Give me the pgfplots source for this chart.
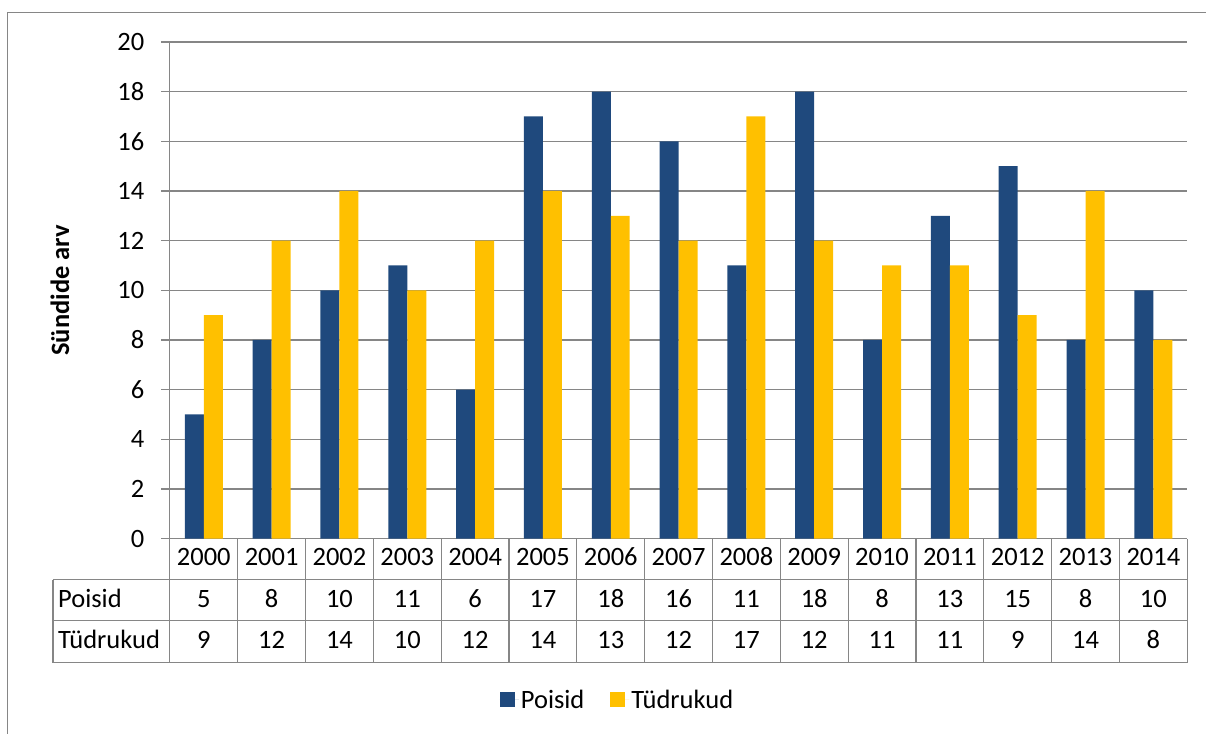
\documentclass[border=0pt]{standalone}
\usepackage{pgfplots}
\pgfplotsset{compat=1.18}
\usepackage{pgfplotstable}
\usepackage{fontspec}
\setmainfont{Carlito}
\definecolor{cblue}{HTML}{1F497D}
\definecolor{cyel}{HTML}{FFC000}
\definecolor{cgrid}{HTML}{868686}

\pgfplotstableread{
x year poisid tudrukud
0  2000 5  9
1  2001 8  12
2  2002 10 14
3  2003 11 10
4  2004 6  12
5  2005 17 14
6  2006 18 13
7  2007 16 12
8  2008 11 17
9  2009 18 12
10 2010 8  11
11 2011 13 11
12 2012 15 9
13 2013 8  14
14 2014 10 8
}\data

\newcommand\fs{\fontsize{26.5}{31}\selectfont}

\begin{document}
\begin{tikzpicture}
\path (0pt,0pt) rectangle (1207pt,734pt);
\draw[cgrid, line width=1.5pt] (7.5pt,0pt) -- (7.5pt,721.5pt) -- (1207pt,721.5pt);
\begin{axis}[
  at={(170pt,195pt)}, anchor=south west, scale only axis,
  width=1018pt, height=497pt,
  ymin=0, ymax=20, ytick={0,2,...,20},
  xmin=-0.5, xmax=14.5,
  ybar=0pt, bar width=19pt,
  xtick=\empty,
  ymajorgrids, grid style={cgrid, line width=1.2pt},
  axis x line*=bottom, axis y line*=left,
  axis line style={cgrid, line width=1.2pt},
  ytick align=outside, major tick length=8.5pt,
  y tick style={cgrid, line width=1.2pt},
  /pgf/number format/assume math mode=true,
  yticklabel style={font=\fs, inner sep=0pt, xshift=-17pt, anchor=east},
  legend columns=2,
  legend style={at={(0.44,-0.324)}, anchor=center, draw=none, font=\fs,
    /tikz/every even column/.append style={column sep=24pt}},
  legend image code/.code={\fill[#1] (0pt,-7.5pt) rectangle (15pt,7.5pt); \path (0pt,0pt) -- (19pt,0pt);},
  clip=false,
]
\addplot[fill=cblue, draw=none] table[x=x, y=poisid] {\data};
\addplot[fill=cyel, draw=none] table[x=x, y=tudrukud] {\data};
\legend{Poisid, Tüdrukud}
\end{axis}
% data table grid
\draw[cgrid, line width=1.2pt] (53pt,154pt) -- (1188pt,154pt);
\draw[cgrid, line width=1.2pt] (53pt,113pt) -- (1188pt,113pt);
\draw[cgrid, line width=1.2pt] (53pt,71pt) -- (1188pt,71pt);
\draw[cgrid, line width=1.2pt] (53pt,71pt) -- (53pt,154pt);
\foreach \k in {0,...,15} {
  \pgfmathsetmacro{\xx}{170+\k*67.8667}
  \draw[cgrid, line width=1.2pt] (\xx pt,71pt) -- (\xx pt,195pt);
}
% data table text
\foreach \i in {0,...,14} {
  \pgfmathsetmacro{\xc}{170+(\i+0.5)*67.8667}
  \pgfplotstablegetelem{\i}{year}\of\data
  \node[anchor=base, inner sep=0pt, font=\fs] at (\xc pt,168pt) {\pgfplotsretval};
  \pgfplotstablegetelem{\i}{poisid}\of\data
  \node[anchor=base, inner sep=0pt, font=\fs] at (\xc pt,126.5pt) {\pgfplotsretval};
  \pgfplotstablegetelem{\i}{tudrukud}\of\data
  \node[anchor=base, inner sep=0pt, font=\fs] at (\xc pt,85pt) {\pgfplotsretval};
}
\node[anchor=base west, inner sep=0pt, font=\fs] at (58pt,126.5pt) {Poisid};
\node[anchor=base west, inner sep=0pt, font=\fs] at (58pt,85pt) {Tüdrukud};
\node[rotate=90, font=\fs\bfseries] at (60pt,443.5pt) {Sündide arv};
\end{tikzpicture}
\end{document}
